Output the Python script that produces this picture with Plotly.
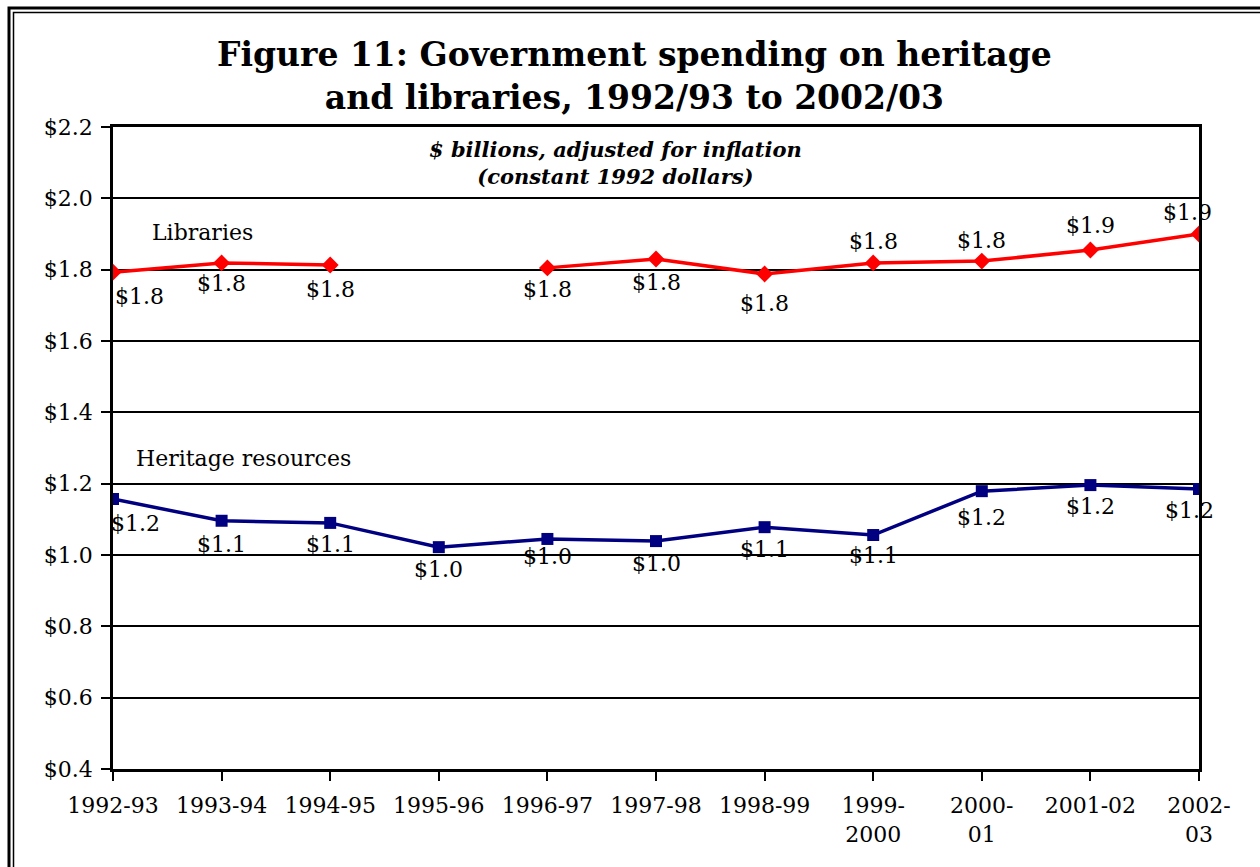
import plotly.graph_objects as go

# Fiscal years on the category axis
years = ["1992-93", "1993-94", "1994-95", "1995-96", "1996-97", "1997-98",
         "1998-99", "1999-2000", "2000-01", "2001-02", "2002-03"]
year_ticks = ["1992-93", "1993-94", "1994-95", "1995-96", "1996-97", "1997-98",
              "1998-99", "1999-<br>2000", "2000-<br>01", "2001-02", "2002-<br>03"]

# Spending, $ billions in constant 1992 dollars (no library figure for 1995-96)
libraries = [1.793, 1.819, 1.813, None, 1.805, 1.830, 1.788, 1.819, 1.824, 1.855, 1.900]
heritage = [1.157, 1.096, 1.090, 1.022, 1.045, 1.039, 1.078, 1.056, 1.179, 1.196, 1.185]

# Label offsets (px) for each point's value label
lib_offsets = [(26, -24), (0, -21), (0, -24), None, (0, -22), (0, -24), (0, -30),
               (0, 21), (0, 21), (0, 25), (-12, 22)]
her_offsets = [(22, -24), (0, -24), (0, -22), (0, -22), (0, -18), (0, -22), (0, -22),
               (0, -20), (0, -26), (0, -21), (-10, -21)]

SERIF = "DejaVu Serif"
RED = "#FF0000"
NAVY = "#000080"

L, R, T, B = 113, 61, 127, 98
W, H = 1260, 867
PW, PH = W - L - R, H - T - B


def px_x(px):
    return (px - L) / PW


def px_y(py):
    return (H - B - py) / PH


x = list(range(len(years)))

fig = go.Figure()
fig.add_trace(go.Scatter(
    x=x, y=libraries, mode="lines+markers", name="Libraries",
    line=dict(color=RED, width=3.5), connectgaps=False,
    marker=dict(symbol="diamond", size=13, color=RED),
))
fig.add_trace(go.Scatter(
    x=x, y=heritage, mode="lines+markers", name="Heritage resources",
    line=dict(color=NAVY, width=3.5),
    marker=dict(symbol="square", size=12, color=NAVY),
))

annotations = []
for series, offsets in ((libraries, lib_offsets), (heritage, her_offsets)):
    for i, v in enumerate(series):
        if v is None:
            continue
        dx, dy = offsets[i]
        annotations.append(dict(
            x=x[i], y=v, xref="x", yref="y", text=f"${v:.1f}", showarrow=False,
            xshift=dx, yshift=dy, font=dict(family=SERIF, size=22, color="black"),
        ))

# Series names written inside the plot
annotations.append(dict(x=0.34, y=1.905, xref="x", yref="y", text="Libraries",
                        showarrow=False, xanchor="left",
                        font=dict(family=SERIF, size=22, color="black")))
annotations.append(dict(x=0.19, y=1.27, xref="x", yref="y", text="Heritage resources",
                        showarrow=False, xanchor="left",
                        font=dict(family=SERIF, size=22, color="black")))

# Subtitle inside the plot
annotations.append(dict(x=px_x(615), y=px_y(163), xref="paper", yref="paper",
                        xanchor="center", yanchor="middle",
                        text="<b><i>$ billions, adjusted for inflation<br>(constant 1992 dollars)</i></b>",
                        showarrow=False, font=dict(family=SERIF, size=21, color="black")))

# Title
annotations.append(dict(x=px_x(634), y=px_y(76), xref="paper", yref="paper",
                        xanchor="center", yanchor="middle",
                        text="<b>Figure 11: Government spending on heritage<br>and libraries, 1992/93 to 2002/03</b>",
                        showarrow=False, font=dict(family=SERIF, size=33, color="black")))

# Double frame around the whole figure
shapes = [
    dict(type="rect", xref="paper", yref="paper", x0=px_x(9), x1=px_x(1290),
         y0=px_y(900), y1=px_y(8), line=dict(color="black", width=3), layer="above"),
    dict(type="rect", xref="paper", yref="paper", x0=px_x(13.5), x1=px_x(1290),
         y0=px_y(900), y1=px_y(12.5), line=dict(color="black", width=1.5), layer="above"),
]

fig.update_layout(
    width=W, height=H,
    margin=dict(l=L, r=R, t=T, b=B),
    paper_bgcolor="white", plot_bgcolor="white",
    showlegend=False,
    annotations=annotations, shapes=shapes,
    font=dict(family=SERIF, size=22, color="black"),
)
fig.update_xaxes(
    range=[0, len(years) - 1], tickmode="array", tickvals=x, ticktext=year_ticks,
    showgrid=False, zeroline=False, showline=True, linecolor="black", linewidth=2.5,
    mirror=True, ticks="outside", ticklen=9, tickwidth=2, tickcolor="black",
    ticklabelstandoff=6,
    tickfont=dict(family=SERIF, size=22, color="black"),
)
fig.update_yaxes(
    range=[0.4, 2.2], dtick=0.2, tick0=0.4, tickprefix="$", tickformat=".1f",
    showgrid=True, gridcolor="black", gridwidth=1.5, zeroline=False,
    showline=True, linecolor="black", linewidth=2.5, mirror=True,
    ticks="outside", ticklen=9, tickwidth=2, tickcolor="black",
    ticklabelstandoff=4,
    tickfont=dict(family=SERIF, size=22, color="black"),
)

fig.write_html("out.html")
